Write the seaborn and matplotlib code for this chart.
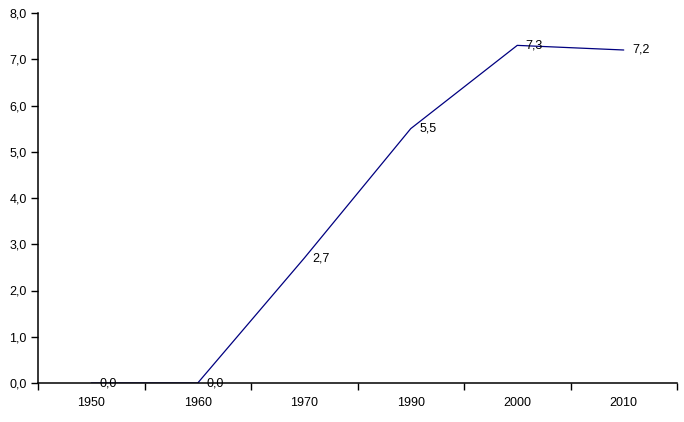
import matplotlib
matplotlib.use("Agg")
import matplotlib.pyplot as plt
import seaborn as sns
import pandas as pd
from matplotlib.ticker import FuncFormatter, FixedLocator

years = ["1950", "1960", "1970", "1990", "2000", "2010"]
values = [0.0, 0.0, 2.7, 5.5, 7.3, 7.2]

df = pd.DataFrame({"year": years, "value": values})

sns.set_style("white")
plt.rcParams["font.family"] = ["Liberation Sans", "DejaVu Sans"]

fig = plt.figure(figsize=(6.84, 4.22), dpi=100)
ax = fig.add_axes([38 / 684, 39 / 422, 639 / 684, 370 / 422])

sns.lineplot(data=df, x="year", y="value", ax=ax, color="#000080", linewidth=0.9, sort=False, zorder=1)

# data labels right of each point
for i, v in enumerate(values):
    ax.annotate(f"{v:.1f}".replace(".", ","), (i, v), xytext=(6, 0), textcoords="offset points",
                ha="left", va="center", fontsize=9, color="black", annotation_clip=False)

ax.set_xlim(-0.5, len(years) - 0.5)
ax.set_ylim(0, 8)
ax.set_yticks([0, 1, 2, 3, 4, 5, 6, 7, 8])
ax.yaxis.set_major_formatter(FuncFormatter(lambda y, _: f"{y:.1f}".replace(".", ",")))
ax.set_xticks(range(len(years)))
ax.set_xticklabels(years)
ax.xaxis.set_minor_locator(FixedLocator([i - 0.5 for i in range(len(years) + 1)]))

ax.tick_params(axis="x", which="major", length=0, pad=10, labelsize=9, colors="black")
ax.tick_params(axis="x", which="minor", length=5, width=1, color="black", direction="out", bottom=True)
ax.tick_params(axis="y", length=5, width=1, colors="black", direction="out", pad=3, labelsize=9, left=True)

ax.set_xlabel("")
ax.set_ylabel("")
for s in ["top", "right"]:
    ax.spines[s].set_visible(False)
for s in ["left", "bottom"]:
    ax.spines[s].set_color("black")
    ax.spines[s].set_linewidth(1.1)
    ax.spines[s].set_zorder(3)

fig.savefig("out.png", dpi=100)
